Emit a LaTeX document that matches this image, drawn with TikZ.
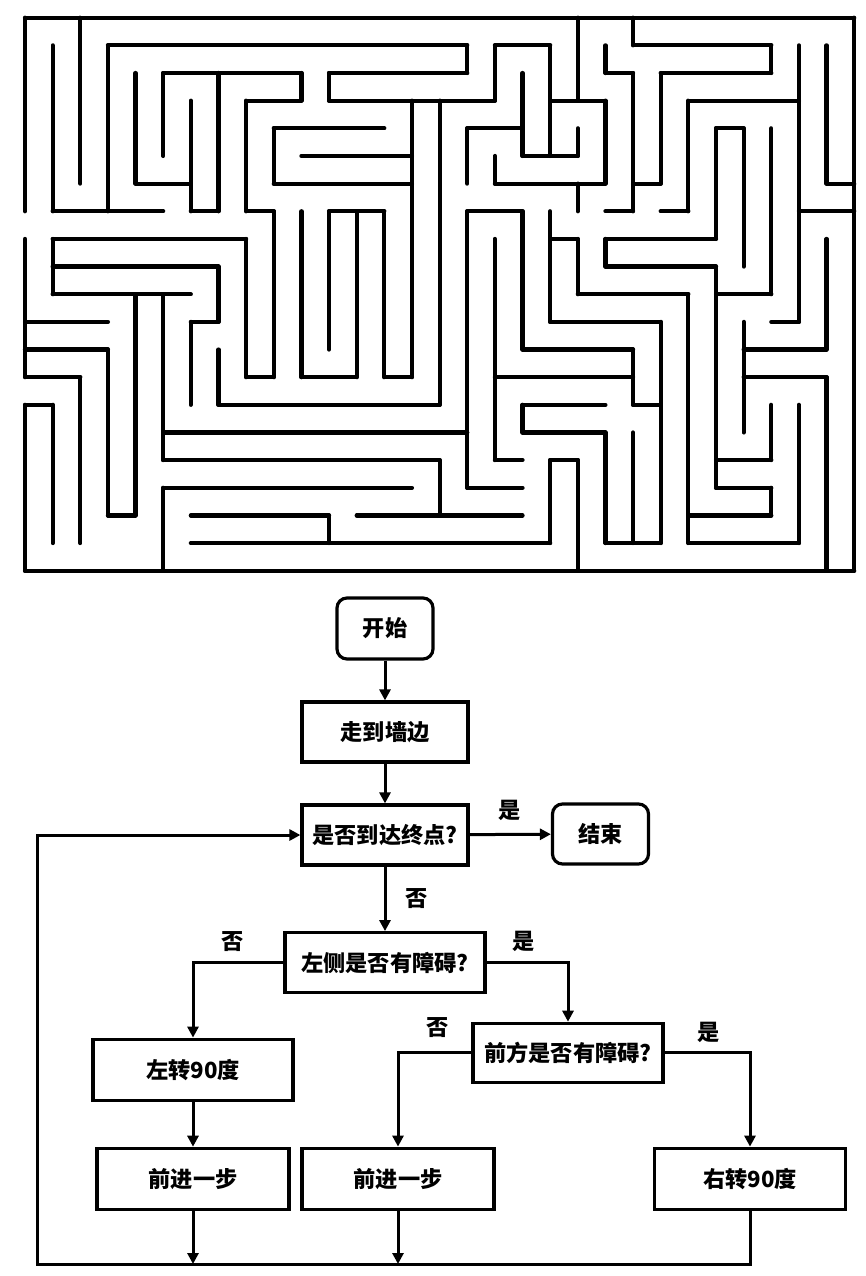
\documentclass[tikz,border=0pt]{standalone}
\usepackage{fontspec}
\newfontfamily\cjk{Noto Sans CJK SC}
\usetikzlibrary{arrows.meta}
\begin{document}
\begin{tikzpicture}[x=1bp,y=-1bp,
  wall/.style={line width=4.2bp, line cap=round, line join=round},
  txt/.style={font=\cjk\bfseries\fontsize{22.3}{26}\selectfont},
  pbox/.style={txt, draw, line width=3.2bp, inner sep=0pt},
  rbox/.style={pbox, rounded corners=10bp},
  lbl/.style={txt, inner sep=0pt},
  flow/.style={line width=3bp},
  arr/.style={flow, -{Triangle[length=11bp,width=11bp]}}]
\useasboundingbox (0,0) rectangle (866,1276);
\fill[white] (0,0) rectangle (866,1276);
% ---------------- maze ----------------
\begin{scope}[shift={(25,17.7)}, x=27.64bp, y=-27.65bp]
\foreach \r/\a/\b in {0/0/30,1/3/16,1/17/19,1/22/27,2/5/10,2/11/16,2/21/22,2/23/27,
  3/8/10,3/11/17,3/19/21,3/24/28,4/9/13,4/16/18,4/25/26,5/10/14,5/18/20,
  6/4/6,6/9/14,6/17/21,6/22/23,6/29/30,7/1/5,7/6/7,7/8/9,7/11/13,7/16/18,7/21/22,7/23/24,7/28/30,
  8/1/8,8/19/20,8/21/25,9/1/7,9/21/25,10/1/6,10/20/24,10/25/27,
  11/0/3,11/6/7,11/19/23,11/27/28,12/0/3,12/18/22,12/26/29,
  13/0/2,13/8/9,13/10/12,13/13/14,13/17/22,13/26/29,14/0/1,14/7/15,14/18/21,14/22/23,
  15/5/16,15/18/21,16/5/15,16/17/18,16/19/20,16/25/27,17/5/14,17/16/18,17/25/27,
  18/3/4,18/6/11,18/12/18,18/24/27,19/6/19,19/21/23,19/24/28,20/0/30}
  \draw[wall] (\a,\r) -- (\b,\r);
\foreach \c/\a/\b in {0/0/7,0/8/13,0/14/20,1/1/7,1/8/10,1/14/19,2/0/6,2/13/19,3/1/7,3/12/18,
  4/2/6,4/10/18,5/2/5,5/10/16,5/17/20,6/3/7,6/11/14,7/2/7,7/9/11,7/12/14,8/3/7,8/8/13,
  9/4/6,9/7/13,10/2/3,10/7/13,11/2/3,11/7/12,11/18/19,12/7/13,13/7/13,14/3/13,15/3/14,15/16/18,
  16/1/2,16/4/6,16/7/17,17/1/3,17/5/6,17/8/16,18/2/5,18/7/12,18/14/15,19/1/5,19/7/11,19/16/19,
  20/0/3,20/4/5,20/6/7,20/8/10,20/16/20,21/1/2,21/3/6,21/8/9,21/15/19,22/0/1,22/2/7,22/12/14,22/15/19,
  23/2/6,23/11/19,24/3/7,24/10/19,25/4/8,25/9/17,26/4/9,26/11/15,27/1/2,27/4/10,27/14/16,27/17/18,
  28/1/11,28/14/19,29/1/6,29/8/12,29/13/20,30/0/20}
  \draw[wall] (\c,\a) -- (\c,\b);
\end{scope}
% ---------------- flowchart ----------------
\node[rbox, minimum width=96bp, minimum height=61bp] (start) at (385,628.5) {开始};
\node[pbox, minimum width=166bp, minimum height=60bp] (walk) at (385,732) {走到墙边};
\node[pbox, minimum width=166bp, minimum height=60bp] (reach) at (385,835) {是否到达终点?};
\node[rbox, minimum width=96bp, minimum height=60bp] (end) at (600.5,834) {结束};
\node[pbox, minimum width=200bp, minimum height=60bp] (left) at (385,962.7) {左侧是否有障碍?};
\node[pbox, minimum width=200bp, minimum height=61bp] (turnL) at (193,1069.7) {左转90度};
\node[pbox, minimum width=192bp, minimum height=61bp] (fwdL) at (193,1178.8) {前进一步};
\node[pbox, minimum width=190bp, minimum height=59bp] (front) at (568,1052.8) {前方是否有障碍?};
\node[pbox, minimum width=192bp, minimum height=61bp] (fwdM) at (398,1178.7) {前进一步};
\node[pbox, minimum width=191bp, minimum height=61bp] (turnR) at (750,1178.7) {右转90度};

\node[lbl] (y1) at (510,810) {是};
\node[lbl] (n1) at (416.7,899) {否};
\node[lbl] (n2) at (233,941.7) {否};
\node[lbl] (y2) at (524,941) {是};
\node[lbl] (n3) at (438,1028) {否};
\node[lbl] (y3) at (709,1032) {是};

\coordinate (bl) at (37.3,1264);
\coordinate (b1) at (fwdL.south |- bl);
\coordinate (b2) at (fwdM.south |- bl);

\draw[arr] (start) -- (walk);
\draw[arr] (walk) -- (reach);
\draw[arr] (reach) -- (end);
\draw[arr] (reach) -- (left);
\draw[arr] (left.west) -| (turnL.north);
\draw[arr] (left.east) -| (front.north);
\draw[arr] (turnL) -- (fwdL);
\draw[arr] (front.west) -| (fwdM.north);
\draw[arr] (front.east) -| (turnR.north);
\draw[arr] (fwdL) -- (b1);
\draw[arr] (fwdM) -- (b2);
\draw[arr] (turnR.south) |- (bl) |- (reach.west);
\end{tikzpicture}
\end{document}
